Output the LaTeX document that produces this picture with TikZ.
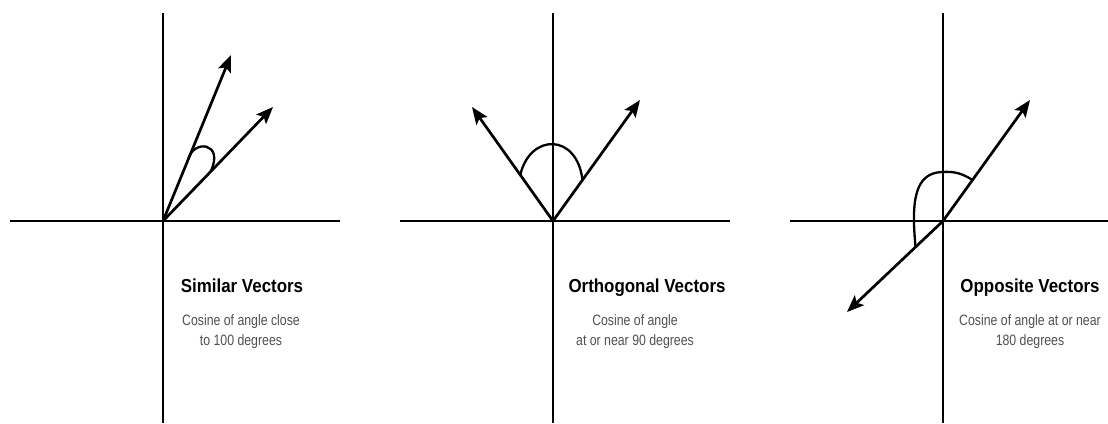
\documentclass[tikz,border=0pt]{standalone}
\usepackage{fontspec}
\setmainfont{Liberation Sans}
\newfontfamily\titlefont[FakeStretch=0.9]{Liberation Sans}
\newfontfamily\notefont[FakeStretch=0.82]{Liberation Sans}
\definecolor{capgray}{RGB}{80,80,80}
\usetikzlibrary{arrows.meta,positioning,calc}

\begin{document}
\begin{tikzpicture}[x=1pt,y=-1pt,>={Stealth[length=17pt,width=13.5pt,inset=3.5pt]},
    axis/.style={line width=2.5pt},
    vec/.style={->,line width=2.7pt},
    anglearc/.style={line width=2.3pt},
    title/.style={anchor=base,font=\titlefont\fontsize{18.8}{22}\selectfont\bfseries},
    note/.style={anchor=north,inner sep=0pt,align=center,text=capgray,font=\notefont\fontsize{15}{20.5}\selectfont}]
  \useasboundingbox (0,0) rectangle (1108,423);

  % similar vectors
  \coordinate (o1) at (163,221);
  \draw[axis] (163,13) -- (163,423);
  \draw[axis] (10,221) -- (340,221);
  \coordinate (a1) at (231,55);
  \coordinate (b1) at (273,107);
  \draw[vec] (o1) -- (a1);
  \draw[vec] (o1) -- (b1);
  \draw[anglearc] ($(o1)!0.37!(a1)$) .. controls (193,139) and (225,142) .. ($(o1)!0.432!(b1)$);
  \node[title] (t1) at (242,292) {Similar Vectors};
  \node[note] (n1) at (241,314) {Cosine of angle close\\to 100 degrees};

  % orthogonal vectors
  \coordinate (o2) at (553,221);
  \draw[axis] (553,13) -- (553,423);
  \draw[axis] (400,221) -- (730,221);
  \coordinate (a2) at (472,107);
  \coordinate (b2) at (640,100);
  \draw[vec] (o2) -- (a2);
  \draw[vec] (o2) -- (b2);
  \draw[anglearc] ($(o2)!0.404!(a2)$) .. controls (530,133) and (577,133) .. ($(o2)!0.339!(b2)$);
  \node[title] (t2) at (647,292) {Orthogonal Vectors};
  \node[note] (n2) at (635,314) {Cosine of angle\\at or near 90 degrees};

  % opposite vectors
  \coordinate (o3) at (943,221);
  \draw[axis] (943,13) -- (943,423);
  \draw[axis] (790,221) -- (1108,221);
  \coordinate (a3) at (1030,100);
  \coordinate (b3) at (847,312);
  \draw[vec] (o3) -- (a3);
  \draw[vec] (o3) -- (b3);
  \draw[anglearc] ($(o3)!0.339!(a3)$) .. controls (960,172) and (952,171.5) .. (942,172)
    .. controls (915,173) and (911,200) .. ($(o3)!0.286!(b3)$);
  \node[title] (t3) at (1030,292) {Opposite Vectors};
  \node[note] (n3) at (1030,314) {Cosine of angle at or near\\180 degrees};
\end{tikzpicture}
\end{document}
